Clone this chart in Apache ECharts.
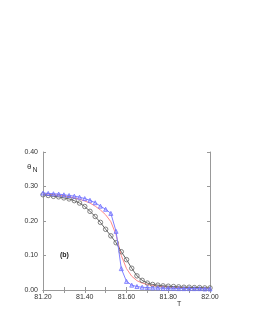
<!DOCTYPE html>
<html><head><meta charset="utf-8">
<script src="https://cdn.jsdelivr.net/npm/echarts@6/dist/echarts.min.js"></script>
<style>html,body{margin:0;padding:0;background:#fff}#c{width:253px;height:327px}</style>
</head><body><div id="c"></div>
<script>
var temps = [81.200,81.225,81.250,81.275,81.300,81.325,81.350,81.375,81.400,81.425,81.450,81.475,81.500,81.525,81.550,81.575,81.600,81.625,81.650,81.675,81.700,81.725,81.750,81.775,81.800,81.825,81.850,81.875,81.900,81.925,81.950,81.975,82.000];
var blackVals = [0.276,0.274,0.2715,0.270,0.267,0.264,0.259,0.252,0.242,0.228,0.213,0.196,0.176,0.157,0.137,0.111,0.088,0.063,0.041,0.028,0.020,0.016,0.014,0.012,0.011,0.010,0.009,0.008,0.008,0.007,0.007,0.006,0.006];
var redVals = [0.279,0.278,0.276,0.275,0.273,0.270,0.267,0.263,0.258,0.252,0.243,0.232,0.218,0.198,0.160,0.100,0.062,0.040,0.027,0.020,0.016,0.013,0.011,0.010,0.009,0.008,0.008,0.007,0.007,0.006,0.006,0.006,0.005];
var blueVals = [0.281,0.280,0.279,0.278,0.276,0.274,0.272,0.269,0.265,0.260,0.253,0.243,0.234,0.222,0.170,0.062,0.025,0.014,0.010,0.008,0.007,0.006,0.006,0.005,0.005,0.005,0.004,0.004,0.004,0.004,0.004,0.003,0.003];
var xTickLabels = ['81.20','81.40','81.60','81.80','82.00'];
var yTickLabels = ['0.00','0.10','0.20','0.30','0.40'];

function pairs(vals){ return temps.map(function(t,i){ return [t, vals[i]]; }); }
var font = 'Liberation Sans, Arial, sans-serif';
var axisLine = {show:true, lineStyle:{color:'#999', width:1}};
var chart = echarts.init(document.getElementById('c'), null, {renderer:'canvas'});
chart.setOption({
  animation:false,
  backgroundColor:'#fff',
  grid:{left:43, top:152, width:167, height:138, containLabel:false},
  xAxis:[{
    type:'value', min:81.2, max:82.0, interval:0.2, position:'bottom',
    axisLine:axisLine, splitLine:{show:false},
    axisTick:{show:true, inside:true, length:3, lineStyle:{color:'#999'}},
    minorTick:{show:true, splitNumber:2, length:3, lineStyle:{color:'#999'}},
    axisLabel:{fontSize:7, color:'#333', fontFamily:font, margin:4,
      formatter:function(v){ var i = Math.round((v-81.2)/0.2); return xTickLabels[i]||''; }}
  },{
    type:'value', min:81.2, max:82.0, interval:0.2, position:'top',
    axisLine:axisLine, splitLine:{show:false},
    axisTick:{show:true, inside:true, length:3, lineStyle:{color:'#999'}},
    minorTick:{show:true, splitNumber:2, length:3, lineStyle:{color:'#999'}},
    axisLabel:{show:false}
  }],
  yAxis:[{
    type:'value', min:0, max:0.4, interval:0.1, position:'left',
    axisLine:axisLine, splitLine:{show:false},
    axisTick:{show:true, inside:true, length:3, lineStyle:{color:'#999'}},
    axisLabel:{fontSize:7, color:'#333', fontFamily:font, margin:5,
      formatter:function(v){ var i = Math.round(v/0.1); return yTickLabels[i]||''; }}
  },{
    type:'value', min:0, max:0.4, interval:0.1, position:'right',
    axisLine:axisLine, splitLine:{show:false},
    axisTick:{show:true, inside:true, length:3, lineStyle:{color:'#999'}},
    axisLabel:{show:false}
  }],
  series:[
    {type:'line', data:pairs(redVals), symbol:'none',
     lineStyle:{color:'#ff8a8a', width:1}, z:2},
    {type:'line', data:pairs(blackVals), symbol:'circle', symbolSize:4.5,
     lineStyle:{color:'#666', width:1},
     itemStyle:{color:'rgba(0,0,0,0)', borderColor:'#666', borderWidth:0.8}, z:3},
    {type:'line', data:pairs(blueVals), symbol:'triangle', symbolSize:4,
     lineStyle:{color:'#8080ff', width:1},
     itemStyle:{color:'rgba(120,120,255,0.25)', borderColor:'#7070ff', borderWidth:0.8}, z:4}
  ],
  graphic:[
    {type:'text', left:27, top:163, style:{
      text:'{a|θ}{b|N}', fill:'#333',
      rich:{a:{fontSize:8, fontFamily:font, fill:'#333'}, b:{fontSize:7, fontFamily:font, fill:'#333', padding:[6,0,0,1]}}}},
    {type:'text', left:60, top:252, style:{text:'(b)', fontSize:7, fontWeight:'bold', fontFamily:font, fill:'#222'}},
    {type:'text', left:177, top:301, style:{text:'T', fontSize:7, fontFamily:font, fill:'#333'}}
  ]
});
</script></body></html>
